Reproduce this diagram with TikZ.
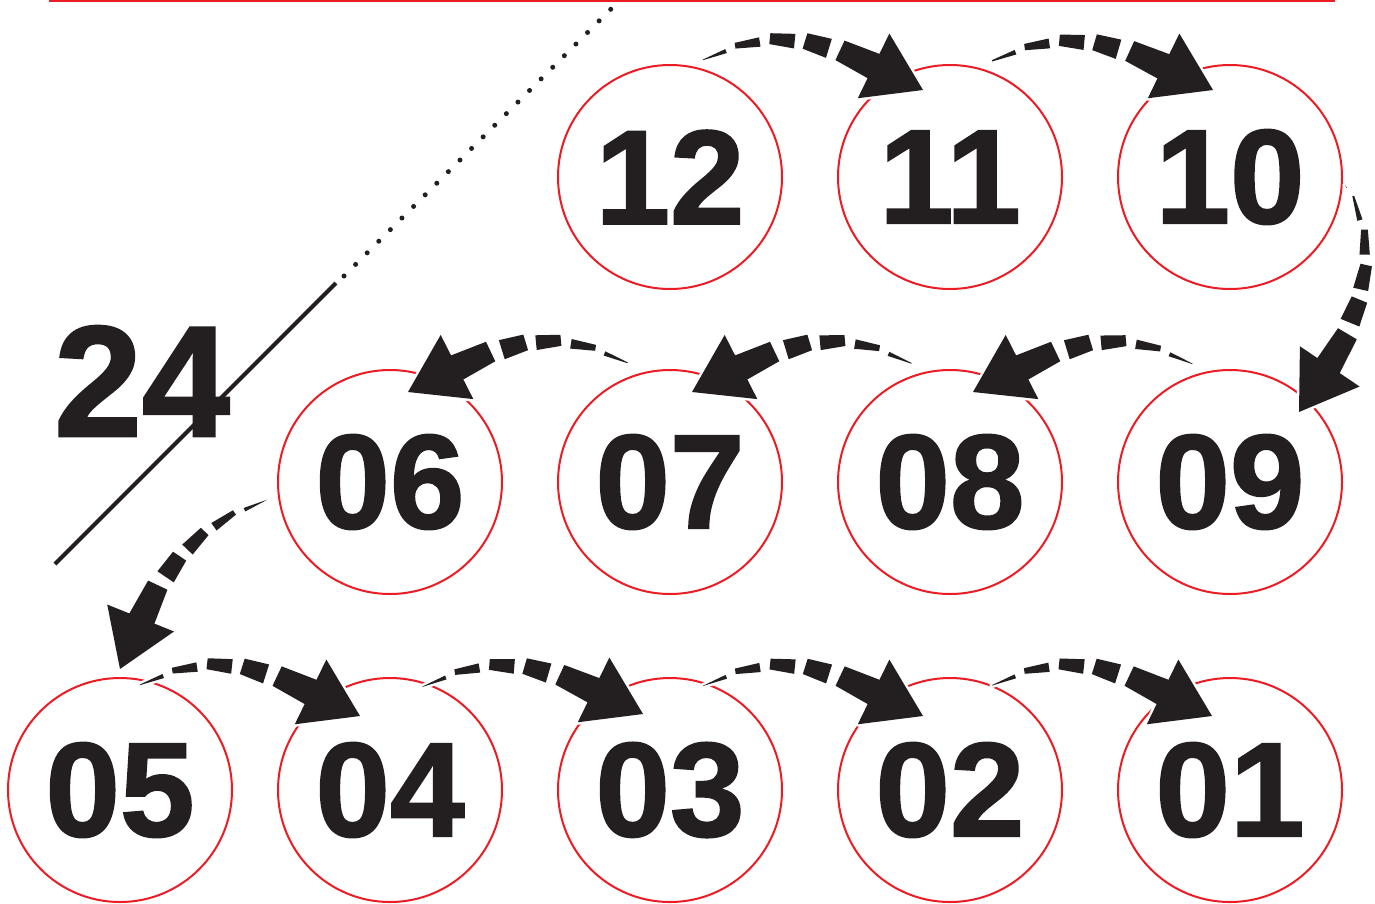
\documentclass[tikz,border=0pt]{standalone}
\usepackage{fontspec}
\newfontfamily\digitfont{Liberation Sans}[BoldFeatures={FakeBold=1.5}]
\usetikzlibrary{decorations.markings,calc}
\definecolor{circred}{RGB}{236,28,36}
\definecolor{ink}{RGB}{35,31,32}
\newcommand\wmaxval{27}
\newcommand\tapepiece[2]{%
  \pgfmathsetmacro\tpL{\pgfdecoratedpathlength}%
  \pgfmathsetmacro\tpE{\pgfkeysvalueof{/pgf/decoration/mark info/distance from start}}%
  \pgfmathsetmacro\tpLen{min(#1,\tpL-\tpE)}%
  \pgfmathsetmacro\tpA{0.5*\wmaxval*(\tpL-\tpE)/(\tpL-55)}%
  \pgfmathsetmacro\tpB{max(0.5*\wmaxval*(\tpL-\tpE-\tpLen)/(\tpL-55),0)}%
  \path[#2] (0,\tpA) -- (\tpLen,\tpB) -- (\tpLen,-\tpB) -- (0,-\tpA) -- cycle;}
\newcommand\tapehead[1]{\path[#1] (0,0) -- (55,36) -- (55,-36) -- cycle;}
\tikzset{
  halo/.style={fill=white,draw=white,line width=5pt,line join=round},
  inkfill/.style={fill=ink,draw=none},
  tmarks/.style={decoration={markings,
      mark=at position 0 with {\tapehead{#1}},
      mark=at position 50pt with {\tapepiece{42}{#1}},
      mark=between positions 103pt and 1 step 35pt with {\tapepiece{25}{#1}}},
    decorate},
  tarrow/.style={preaction={tmarks=halo}, postaction={tmarks=inkfill}},
  circ/.style={circle, draw=circred, line width=2pt, minimum size=224pt,
    inner sep=0pt, text=ink,
    font=\fontsize{134pt}{134pt}\selectfont\digitfont\bfseries},
  biglabel/.style={text=ink, inner sep=0pt,
    font=\fontsize{158pt}{158pt}\selectfont\digitfont\bfseries}
}
\begin{document}
\begin{tikzpicture}[x=1pt,y=1pt]
\useasboundingbox (0,0) rectangle (1375,-903);
% top rule
\draw[circred, line width=3pt] (49,0) -- (1335,0);
% diagonal "24 /" line
\coordinate (d0) at (55,-564);
\coordinate (d1) at (336,-283);
\coordinate (d2) at (344,-276);
\coordinate (d3) at (628,8);
\draw[ink, line width=4pt] (d0) -- (d1);
\draw[ink, line width=5pt, line cap=round, dash pattern=on 0pt off 16.4pt] (d2) -- (d3);
\node[biglabel] (lbl) at (142,-381) {24};
% circles
\node[circ] (n12) at (670,-177) {12};
\node[circ] (n11) at (950,-177) {11};
\node[circ] (n10) at (1230,-177) {10};
\node[circ] (n06) at (390,-482) {06};
\node[circ] (n07) at (670,-482) {07};
\node[circ] (n08) at (950,-482) {08};
\node[circ] (n09) at (1230,-482) {09};
\node[circ] (n05) at (120,-790) {05};
\node[circ] (n04) at (390,-790) {04};
\node[circ] (n03) at (670,-790) {03};
\node[circ] (n02) at (950,-790) {02};
\node[circ] (n01) at (1230,-790) {01};
% arrow end points
\coordinate (s1) at ($(n12)+(30,114)$);   \coordinate (t1) at ($(n11)+(-27,87)$);
\coordinate (s2) at ($(n11)+(35,111)$);   \coordinate (t2) at ($(n10)+(-17,87)$);
\coordinate (s3) at ($(n10)+(115,-8)$);   \coordinate (t3) at ($(n09)+(69,70)$);
\coordinate (s4) at ($(n09)+(-35,115)$);  \coordinate (t4) at ($(n08)+(23,90)$);
\coordinate (s5) at ($(n08)+(-35,115)$);  \coordinate (t5) at ($(n07)+(22,90)$);
\coordinate (s6) at ($(n07)+(-38,115)$);  \coordinate (t6) at ($(n06)+(18,90)$);
\coordinate (s7) at ($(n06)+(-122,-19)$); \coordinate (t7) at ($(n05)+(0,121)$);
\coordinate (s8) at ($(n05)+(17,102)$);   \coordinate (t8) at ($(n04)+(-30,74)$);
\coordinate (s9) at ($(n04)+(31,101)$);   \coordinate (t9) at ($(n03)+(-27,76)$);
\coordinate (s10) at ($(n03)+(32,102)$);  \coordinate (t10) at ($(n02)+(-27,74)$);
\coordinate (s11) at ($(n02)+(40,102)$);  \coordinate (t11) at ($(n01)+(-18,74)$);
% arrows (drawn from tip back to tail)
\path[tarrow] (t1) to[out=154,in=28,looseness=1.1] (s1);
\path[tarrow] (t2) to[out=154,in=28,looseness=1.1] (s2);
\path[tarrow] (t3) to[out=56,in=-60] (s3);
\path[tarrow] (t4) to[out=27,in=150,looseness=1.1] (s4);
\path[tarrow] (t5) to[out=27,in=150,looseness=1.1] (s5);
\path[tarrow] (t6) to[out=27,in=150,looseness=1.1] (s6);
\path[tarrow] (t7) to[out=68,in=197] (s7);
\path[tarrow] (t8) to[out=154,in=28,looseness=1.1] (s8);
\path[tarrow] (t9) to[out=154,in=28,looseness=1.1] (s9);
\path[tarrow] (t10) to[out=154,in=28,looseness=1.1] (s10);
\path[tarrow] (t11) to[out=154,in=28,looseness=1.1] (s11);
\end{tikzpicture}
\end{document}
